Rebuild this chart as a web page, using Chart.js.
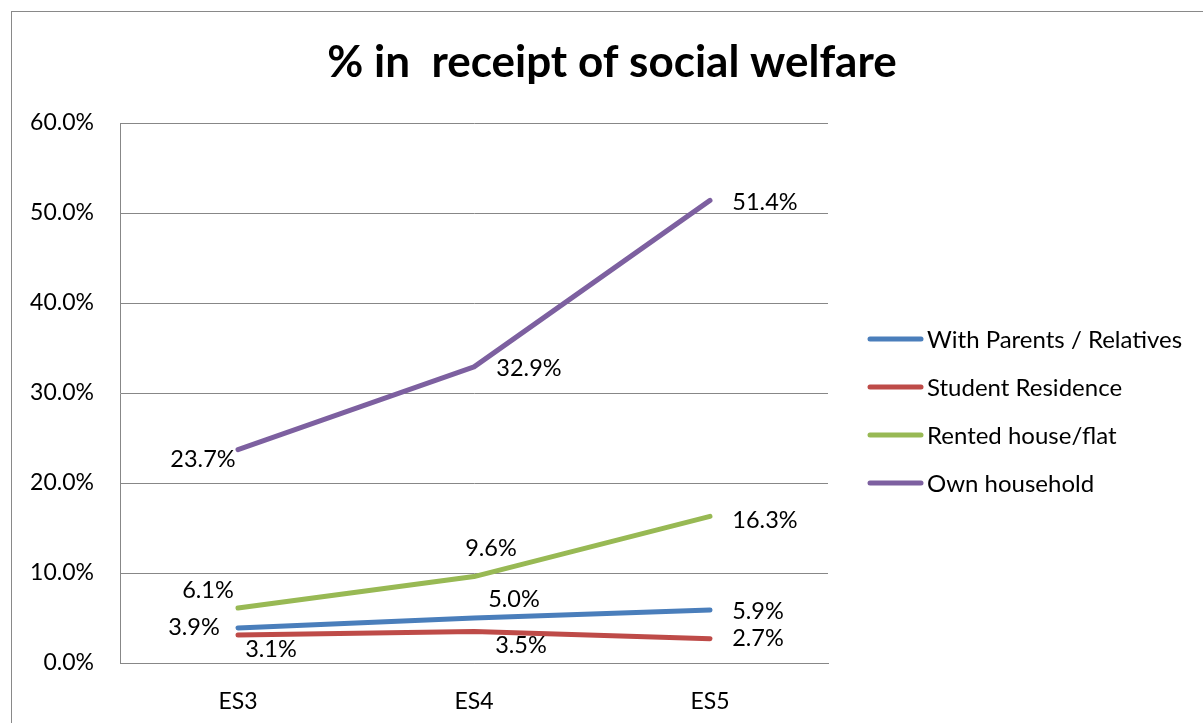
<!DOCTYPE html>
<html>
<head>
<meta charset="utf-8">
<script src="https://cdn.jsdelivr.net/npm/chart.js@4.4.1/dist/chart.umd.min.js"></script>
<style>
  body { margin: 0; background: #fff; overflow: hidden; }
  #frame { position: absolute; left: 11px; top: 11px; width: 1300px; height: 800px;
           border-left: 1px solid #898989; border-top: 1px solid #898989; }
  canvas { position: absolute; left: 0; top: 0; }
</style>
</head>
<body>
<div id="frame"></div>
<canvas id="chart" width="1203" height="723"></canvas>
<script>
const waves    = ['ES3', 'ES4', 'ES5'];
const parents  = [3.9, 5.0, 5.9];
const student  = [3.1, 3.5, 2.7];
const rented   = [6.1, 9.6, 16.3];
const own      = [23.7, 32.9, 51.4];
const yTicks   = [0, 10, 20, 30, 40, 50, 60];

const FONT = 'Lato, "Open Sans", sans-serif';

// label placement relative to each point [dx, dy]
const labelShift = [
  [[-44, 0], [40, -19], [48, 2]],
  [[33, 14], [47, 14], [48, 0]],
  [[-30, -18], [17, -28], [55, 4]],
  [[-35, 10], [55, 2], [55, 2]]
];

const series = [
  { label: 'With Parents / Relatives', data: parents, color: '#4A7EBB' },
  { label: 'Student Residence',        data: student, color: '#BE4B48' },
  { label: 'Rented house/flat',        data: rented,  color: '#98B954' },
  { label: 'Own household',            data: own,     color: '#7D60A0' }
];

const extras = {
  id: 'extras',
  afterDraw(chart) {
    const ctx = chart.ctx;
    ctx.save();
    // title
    ctx.fillStyle = '#000';
    ctx.font = 'bold 44px ' + FONT;
    ctx.textAlign = 'center';
    ctx.textBaseline = 'middle';
    ctx.fillText('% in  receipt of social welfare', 612, 63);

    // value labels
    ctx.font = '23.5px ' + FONT;
    chart.data.datasets.forEach((ds, i) => {
      chart.getDatasetMeta(i).data.forEach((pt, j) => {
        const [dx, dy] = labelShift[i][j];
        ctx.fillText(ds.data[j].toFixed(1) + '%', pt.x + dx, pt.y + dy);
      });
    });

    // legend
    ctx.font = '24px ' + FONT;
    ctx.textAlign = 'left';
    ctx.lineCap = 'round';
    ctx.lineWidth = 5;
    chart.data.datasets.forEach((ds, i) => {
      const y = 339 + i * 48;
      ctx.strokeStyle = ds.borderColor;
      ctx.beginPath();
      ctx.moveTo(870, y);
      ctx.lineTo(921, y);
      ctx.stroke();
      ctx.fillStyle = '#000';
      ctx.fillText(ds.label, 927, y + 1);
    });
    ctx.restore();
  }
};

new Chart(document.getElementById('chart'), {
  type: 'line',
  data: {
    labels: waves,
    datasets: series.map(s => ({
      label: s.label,
      data: s.data,
      borderColor: s.color,
      backgroundColor: s.color,
      borderWidth: 5,
      borderCapStyle: 'round',
      borderJoinStyle: 'round',
      pointRadius: 0,
      tension: 0
    }))
  },
  options: {
    responsive: false,
    animation: false,
    layout: { padding: { left: 0, top: 123, right: 375, bottom: 0 } },
    plugins: { legend: { display: false }, tooltip: { enabled: false } },
    scales: {
      x: {
        offset: true,
        grid: { display: false },
        border: { display: true, color: '#878787', width: 1 },
        ticks: { color: '#000', font: { family: FONT, size: 23 }, padding: 17 },
        afterFit: s => { s.height = 60; }
      },
      y: {
        min: 0,
        max: 60,
        afterBuildTicks: s => { s.ticks = yTicks.map(v => ({ value: v })); },
        grid: { color: '#878787', lineWidth: 1, drawTicks: false },
        border: { display: true, color: '#878787', width: 1 },
        ticks: {
          color: '#000',
          font: { family: FONT, size: 23 },
          padding: 26,
          callback: v => v.toFixed(1) + '%'
        },
        afterFit: s => { s.width = 120; }
      }
    }
  },
  plugins: [extras]
});
</script>
</body>
</html>
